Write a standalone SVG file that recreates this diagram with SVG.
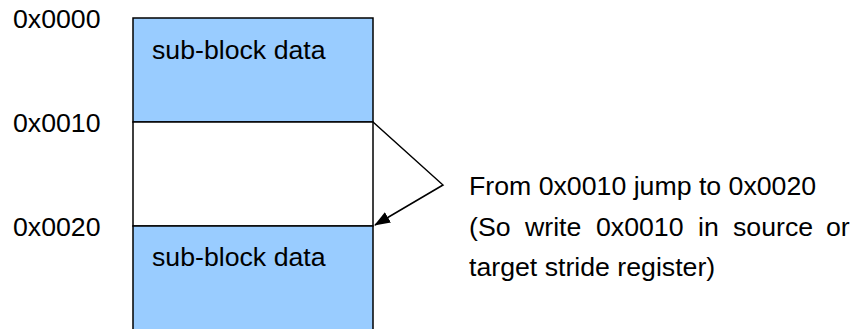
<svg xmlns="http://www.w3.org/2000/svg" width="859" height="329" viewBox="0 0 859 329">
<style>
text{font-family:"Liberation Sans",Arial,sans-serif;font-size:26.7px;fill:#000}
.blk{stroke:#000;stroke-width:1.5}
.conn{fill:none;stroke:#000;stroke-width:1.5}
</style>
<defs>
<marker id="ah" markerWidth="16" markerHeight="12" refX="15" refY="6" orient="auto" markerUnits="userSpaceOnUse">
<path d="M0,0 L16,6 L0,12 Z" fill="#000"/>
</marker>
</defs>
<rect width="859" height="329" fill="#fff"/>
<g id="block1">
<rect class="blk" x="133" y="18" width="240" height="104" fill="#99CCFF"/>
<text x="152" y="59">sub-block data</text>
</g>
<g id="gap">
<rect class="blk" x="133" y="122" width="240" height="104" fill="#fff"/>
</g>
<g id="block2">
<rect class="blk" x="133" y="226" width="240" height="110" fill="#99CCFF"/>
<text x="152" y="266">sub-block data</text>
</g>
<g id="addr">
<text x="13" y="28">0x0000</text>
<text x="13" y="132">0x0010</text>
<text x="13" y="236">0x0020</text>
</g>
<g id="connectors">
<polyline class="conn" points="373,122 443,185 375,225" marker-end="url(#ah)"/>
</g>
<g id="note">
<text x="469" y="195">From 0x0010 jump to 0x0020</text>
<text y="236"><tspan x="469">(So</tspan><tspan x="525">write</tspan><tspan x="596">0x0010</tspan><tspan x="698">in</tspan><tspan x="733">source</tspan><tspan x="826">or</tspan></text>
<text x="469" y="276">target stride register)</text>
</g>
</svg>
